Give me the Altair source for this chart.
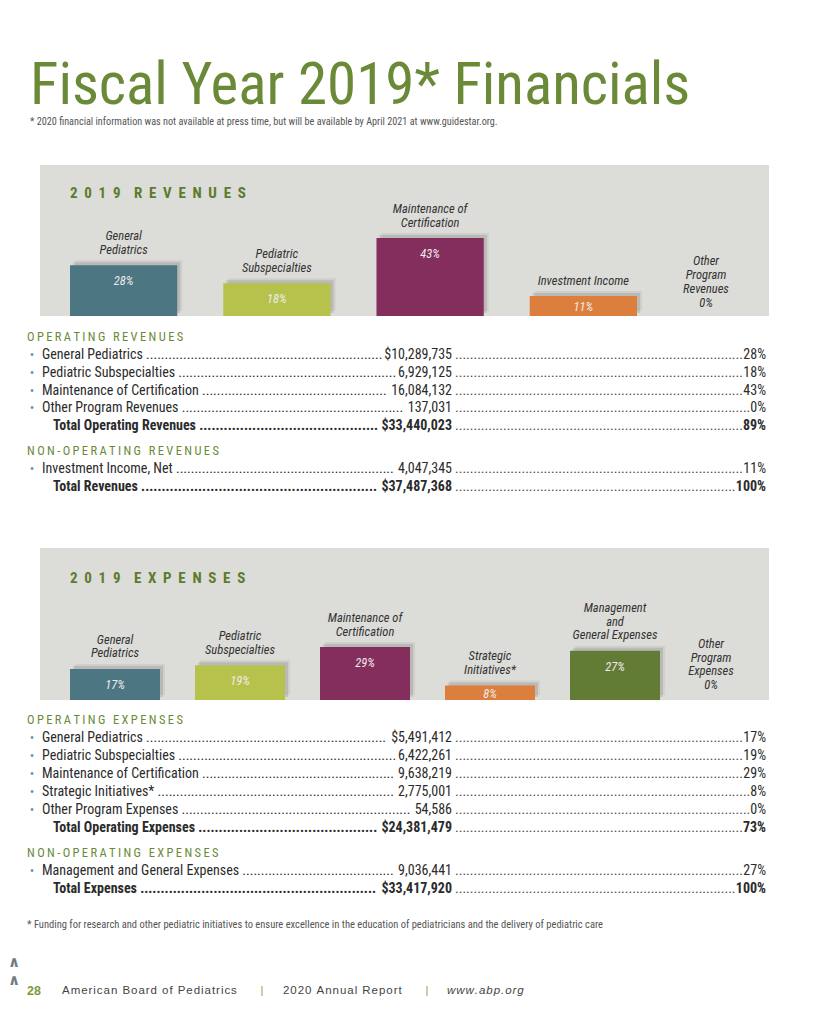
import altair as alt
import pandas as pd

# ---------------- data ----------------
TITLE = "Fiscal Year 2019* Financials"
SUBTITLE = ("* 2020 financial information was not available at press time, "
            "but will be available by April 2021 at www.guidestar.org.")
FOOTNOTE = ("* Funding for research and other pediatric initiatives to ensure excellence "
            "in the education of pediatricians and the delivery of pediatric care")

rev_panel_title = "2019 REVENUES"
rev_bar_cats = ["General\nPediatrics", "Pediatric\nSubspecialties",
                "Maintenance of\nCertification", "Investment Income"]
rev_bar_pct = [28, 18, 43, 11]
rev_other = "Other\nProgram\nRevenues\n0%"

exp_panel_title = "2019 EXPENSES"
exp_bar_cats = ["General\nPediatrics", "Pediatric\nSubspecialties",
                "Maintenance of\nCertification", "Strategic\nInitiatives*",
                "Management\nand\nGeneral Expenses"]
exp_bar_pct = [17, 19, 29, 8, 27]
exp_other = "Other\nProgram\nExpenses\n0%"

rev_op_labels = ["General Pediatrics", "Pediatric Subspecialties", "Maintenance of Certification",
                 "Other Program Revenues", "Total Operating Revenues"]
rev_op_amounts = ["$10,289,735", "6,929,125", "16,084,132", "137,031", "$33,440,023"]
rev_op_pcts = ["28%", "18%", "43%", "0%", "89%"]
rev_nonop_labels = ["Investment Income, Net", "Total Revenues"]
rev_nonop_amounts = ["4,047,345", "$37,487,368"]
rev_nonop_pcts = ["11%", "100%"]

exp_op_labels = ["General Pediatrics", "Pediatric Subspecialties", "Maintenance of Certification",
                 "Strategic Initiatives*", "Other Program Expenses", "Total Operating Expenses"]
exp_op_amounts = ["$5,491,412", "6,422,261", "9,638,219", "2,775,001", "54,586", "$24,381,479"]
exp_op_pcts = ["17%", "19%", "29%", "8%", "0%", "73%"]
exp_nonop_labels = ["Management and General Expenses", "Total Expenses"]
exp_nonop_amounts = ["9,036,441", "$33,417,920"]
exp_nonop_pcts = ["27%", "100%"]

footer_page = "28"
footer_parts = ["American Board of Pediatrics", "2020 Annual Report", "www.abp.org"]

# ---------------- style ----------------
FONT_N = "Roboto Condensed, DejaVu Sans Condensed, sans-serif"
FONT_R = "Liberation Sans, Arial, sans-serif"
GREEN = "#6b8a38"
GREEN_D = "#5e7b2d"
PANEL = "#dcdcd8"
TXT = "#2b2b2b"
DOTS = "#4a4a4a"
rev_colors = ["#4d7683", "#b6c24c", "#842e5d", "#dc7f3c"]
exp_colors = ["#4d7683", "#b6c24c", "#842e5d", "#dc7f3c", "#637c35"]
FS_ROW = 14


def X(px):
    return px - 8


def Y(py):
    return py - 8


def one(text):
    return alt.Chart(pd.DataFrame({"t": [text]}))


def spaced(s, sep):
    return sep.join(list(s))


# ---------------- decorations / titles ----------------
def panel(y0, y1):
    return one("").mark_rect(color=PANEL).encode(
        x=alt.value(X(40)), x2=alt.value(X(769)), y=alt.value(Y(y0)), y2=alt.value(Y(y1)))


title = one(TITLE).mark_text(font=FONT_N, fontSize=59, color=GREEN, align="left",
                             baseline="alphabetic").encode(
    x=alt.value(X(30)), y=alt.value(Y(103.5)), text="t:N")
subtitle = one(SUBTITLE).mark_text(font=FONT_N, fontSize=10.2, color="#555555", align="left",
                                   baseline="middle").encode(
    x=alt.value(X(30)), y=alt.value(Y(122)), text="t:N")


def panel_title(s, y):
    gap = "\u2002"
    txt = spaced(s, gap).replace(gap + " " + gap, gap + gap)
    return one(txt).mark_text(font=FONT_N, fontSize=15, fontWeight="bold", color=GREEN_D,
                              align="left", baseline="middle").encode(
        x=alt.value(X(70)), y=alt.value(Y(y)), text="t:N")


# ---------------- bar groups ----------------
def bar_group(cats, pcts, colors, x0, x1, pad, base_y, top_y, lab_gap, lh,
              other_text, other_x, other_y):
    df = pd.DataFrame({"cat": cats, "pct": pcts, "col": colors})
    df["pctlab"] = [f"{p}%" for p in pcts]
    df["half"] = df["pct"] / 2
    xs = alt.X("cat:N", sort=cats, axis=None,
               scale=alt.Scale(domain=cats, range=[X(x0), X(x1)],
                               paddingInner=pad, paddingOuter=0))
    ysc = alt.Scale(domain=[0, max(pcts)], range=[Y(base_y), Y(top_y)], nice=False, zero=True)
    ys = alt.Y("pct:Q", scale=ysc, axis=None)
    base = alt.Chart(df)
    shadow2 = base.mark_bar(color="#000000", opacity=0.06, xOffset=5, yOffset=-5).encode(x=xs, y=ys)
    shadow1 = base.mark_bar(color="#000000", opacity=0.10, xOffset=3, yOffset=-3).encode(x=xs, y=ys)
    bars = base.mark_bar().encode(x=xs, y=ys, color=alt.Color("col:N", scale=None))
    pct_style = dict(font=FONT_N, fontSize=12.5, fontStyle="italic", color="#ececec",
                     align="center", baseline="middle")
    tall = base.transform_filter("datum.pct >= 12").mark_text(dy=16, **pct_style).encode(
        x=xs, y=ys, text="pctlab:N")
    short = base.transform_filter("datum.pct < 12").mark_text(dy=1, **pct_style).encode(
        x=xs, y=alt.Y("half:Q", scale=ysc, axis=None), text="pctlab:N")
    rows = []
    for c, p in zip(cats, pcts):
        lines = c.split("\n")
        n = len(lines)
        for i, t in enumerate(lines):
            rows.append({"cat": c, "pct": p, "line": t, "k": n - 1 - i})
    ldf = pd.DataFrame(rows)
    labs = []
    for k in range(int(ldf["k"].max()) + 1):
        labs.append(alt.Chart(ldf).transform_filter(f"datum.k == {k}").mark_text(
            font=FONT_N, fontSize=12.5, fontStyle="italic", color="#333333",
            align="center", baseline="middle", dy=-(lab_gap + k * lh)).encode(
            x=xs, y=ys, text="line:N"))
    other = one(other_text).mark_text(
        font=FONT_N, fontSize=12.5, fontStyle="italic", color="#333333", align="center",
        baseline="middle", lineBreak="\n", lineHeight=lh).encode(
        x=alt.value(X(other_x)), y=alt.value(Y(other_y)), text="t:N")
    return alt.layer(shadow2, shadow1, bars, tall, short, *labs, other)


rev_bars = bar_group(rev_bar_cats, rev_bar_pct, rev_colors, 70, 637, 0.3, 316, 238,
                     15, 14, rev_other, 706, 261)
exp_bars = bar_group(exp_bar_cats, exp_bar_pct, exp_colors, 70, 660, 0.28, 700, 647,
                     15.5, 13.5, exp_other, 711, 644)

# ---------------- tables ----------------
# approximate advance widths (em) of Roboto Condensed figures, used to stop the leader dots
CW = {",": 0.20, "$": 0.49, "%": 0.55, ".": 0.22}
CWB = {",": 0.20, "$": 0.51, "%": 0.55, ".": 0.22}
for d in "0123456789":
    CW[d] = 0.49
    CWB[d] = 0.51


def tw(s, fs, bold=False):
    table = CWB if bold else CW
    return sum(table.get(ch, 0.5) for ch in s) * fs


AMT_R, LEAD_R0, PCT_R = 452, 455, 766


def make_table(blocks, top_y, step):
    recs = []
    slot = 0.0
    for bi, (hdr, labs, amts, pcts) in enumerate(blocks):
        if bi > 0:
            slot += 1.4
        recs.append({"slot": slot, "kind": "header", "label": spaced(hdr, "\u2009"),
                     "amt": "", "pct": "", "lead": "", "llim": 0, "rlim": 0})
        for j, (l, a, p) in enumerate(zip(labs, amts, pcts)):
            slot += 1
            kind = "total" if j == len(labs) - 1 else "row"
            bold = kind == "total"
            lx = 53 if bold else 42
            recs.append({"slot": slot, "kind": kind, "label": l, "amt": a, "pct": p,
                         "lead": l + "\u00a0" + "." * 150,
                         "llim": (AMT_R - tw(a, FS_ROW, bold) - 2) - lx,
                         "rlim": (PCT_R - tw(p, FS_ROW, bold)) - LEAD_R0})
    df = pd.DataFrame(recs)
    n = df["slot"].max()
    ys = alt.Y("slot:Q", axis=None,
               scale=alt.Scale(domain=[0, n], range=[Y(top_y), Y(top_y + n * step)],
                               nice=False, zero=False))
    base = alt.Chart(df)
    common = dict(font=FONT_N, fontSize=FS_ROW, baseline="middle")
    layers = [
        base.transform_filter("datum.kind == 'header'").mark_text(
            font=FONT_N, fontSize=12.5, color=GREEN, align="left", baseline="middle").encode(
            x=alt.value(X(27)), y=ys, text="label:N"),
        base.transform_filter("datum.kind == 'row'").mark_text(
            font=FONT_R, fontSize=10, color="#6e8c99", align="center", baseline="middle").encode(
            x=alt.value(X(32)), y=ys, text=alt.value("\u2022")),
    ]
    for kind, lx, wt in [("row", 42, "normal"), ("total", 53, "bold")]:
        f = base.transform_filter(f"datum.kind == '{kind}'")
        layers.append(f.mark_text(color=TXT, align="left", fontWeight=wt,
                                  limit={"expr": "datum.llim"}, ellipsis=".", **common).encode(
            x=alt.value(X(lx)), y=ys, text="lead:N"))
        layers.append(f.mark_text(color=TXT, align="right", fontWeight=wt, **common).encode(
            x=alt.value(X(AMT_R)), y=ys, text="amt:N"))
        layers.append(f.mark_text(color=TXT, align="right", fontWeight=wt, **common).encode(
            x=alt.value(X(PCT_R)), y=ys, text="pct:N"))
    layers.append(base.transform_filter("datum.kind != 'header'").mark_text(
        color=DOTS, align="left", limit={"expr": "datum.rlim"}, ellipsis=".",
        **common).encode(
        x=alt.value(X(LEAD_R0)), y=ys, text=alt.value("." * 120)))
    return alt.layer(*layers)


rev_table = make_table([
    ("OPERATING REVENUES", rev_op_labels, rev_op_amounts, rev_op_pcts),
    ("NON-OPERATING REVENUES", rev_nonop_labels, rev_nonop_amounts, rev_nonop_pcts),
], 337, 17.85)
exp_table = make_table([
    ("OPERATING EXPENSES", exp_op_labels, exp_op_amounts, exp_op_pcts),
    ("NON-OPERATING EXPENSES", exp_nonop_labels, exp_nonop_amounts, exp_nonop_pcts),
], 720, 17.95)

footnote = one(FOOTNOTE).mark_text(font=FONT_N, fontSize=10.5, color="#555555", align="left",
                                   baseline="middle").encode(
    x=alt.value(X(27)), y=alt.value(Y(925)), text="t:N")

# ---------------- footer ----------------
chevs = [
    one("\u2227").mark_text(font="DejaVu Sans", fontSize=15, fontWeight="bold",
                            color="#6d7f86", align="center", baseline="middle").encode(
        x=alt.value(X(14)), y=alt.value(Y(y)), text="t:N")
    for y in [962, 980]
]
page_no = one(footer_page).mark_text(font=FONT_R, fontSize=12.5, fontWeight="bold", color="#7d9a3c",
                                     align="left", baseline="middle").encode(
    x=alt.value(X(27)), y=alt.value(Y(991)), text="t:N")
fp_x = [62, 283, 447]
fp_style = ["normal", "normal", "italic"]
footer_texts = [
    one(spaced(t, "\u200a")).mark_text(font=FONT_R, fontSize=11.5, color="#444444", align="left",
                                      baseline="middle", fontStyle=st).encode(
        x=alt.value(X(x)), y=alt.value(Y(991)), text="t:N")
    for t, x, st in zip(footer_parts, fp_x, fp_style)
]
seps = [
    one("|").mark_text(font=FONT_R, fontSize=11, color="#8aa04a", align="center",
                       baseline="middle").encode(
        x=alt.value(X(x)), y=alt.value(Y(991)), text="t:N")
    for x in [262, 427]
]

chart = alt.layer(
    panel(165, 316), panel(548, 700),
    title, subtitle,
    panel_title(rev_panel_title, 193), panel_title(exp_panel_title, 578),
    rev_bars, exp_bars, rev_table, exp_table,
    footnote, *chevs, page_no, *footer_texts, *seps,
).resolve_scale(x="independent", y="independent").properties(
    width=797, height=1008, padding=0,
    autosize=alt.AutoSizeParams(type="none"),
    background="#ffffff",
).configure_view(stroke=None)

chart.save("out.html", embed_options={"renderer": "svg", "actions": False})
